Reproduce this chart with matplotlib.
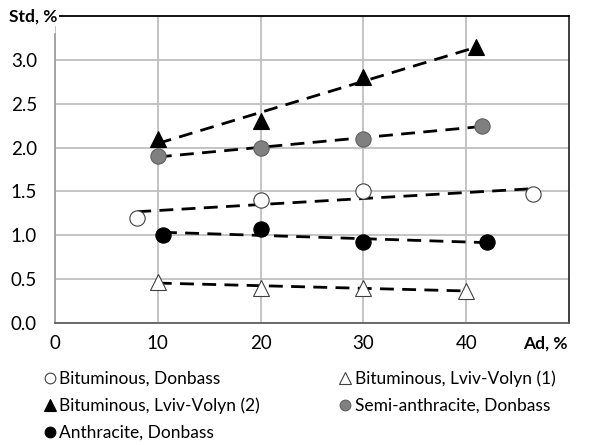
import numpy as np
import matplotlib.pyplot as plt

plt.rcParams['font.family'] = ['Lato', 'DejaVu Sans']

# зольність Ad, % та вміст сірки Std, %
bit_donbass_x = [8, 20, 30, 46.5]
bit_donbass_y = [1.2, 1.4, 1.5, 1.47]

lv1_x = [10, 20, 30, 40]
lv1_y = [0.47, 0.4, 0.4, 0.37]

lv2_x = [10, 20, 30, 41]
lv2_y = [2.1, 2.3, 2.8, 3.15]

semi_x = [10, 20, 30, 41.5]
semi_y = [1.9, 2.0, 2.1, 2.25]

anthr_x = [10.5, 20, 30, 42]
anthr_y = [1.0, 1.07, 0.92, 0.92]

series = [
    ('Bituminous, Donbass', bit_donbass_x, bit_donbass_y, 'o', 'white', '#404040'),
    ('Bituminous, Lviv-Volyn (1)', lv1_x, lv1_y, '^', 'white', '#404040'),
    ('Bituminous, Lviv-Volyn (2)', lv2_x, lv2_y, '^', 'black', 'black'),
    ('Semi-anthracite, Donbass', semi_x, semi_y, 'o', '#808080', '#606060'),
    ('Anthracite, Donbass', anthr_x, anthr_y, 'o', 'black', 'black'),
]

fig = plt.figure(figsize=(5.96, 4.45), dpi=100)
ax = fig.add_axes([0.0923, 0.2742, 0.8624, 0.6898])

handles = {}
for name, x, y, m, fc, ec in series:
    x = np.array(x)
    y = np.array(y)
    # лінійний тренд
    k, b = np.polyfit(x, y, 1)
    xx = np.array([x.min(), x.max()])
    ax.plot(xx, k * xx + b, color='black', lw=2, dashes=(5, 3), zorder=3)
    ms = 11 if m == 'o' else 12
    h, = ax.plot(x, y, ls='none', marker=m, ms=ms, mfc=fc, mec=ec, mew=0.8, zorder=4)
    handles[name] = h

ax.set_xlim(0, 50)
ax.set_ylim(0, 3.5)
ax.set_xticks([0, 10, 20, 30, 40])
ax.set_yticks(np.arange(0, 3.01, 0.5))
ax.set_yticklabels([f'{v:.1f}' for v in np.arange(0, 3.01, 0.5)])
ax.grid(True, color='#bfbfbf', lw=1.3)
ax.set_axisbelow(True)
ax.tick_params(length=0, labelsize=13.5, colors='black', pad=13)
ax.tick_params(axis='x', pad=9)

ax.spines['left'].set_color('#a0a0a0')
ax.spines['left'].set_bounds(0, 3.3)
ax.spines['bottom'].set_color('#606060')
ax.spines['right'].set_color('#303030')
ax.spines['top'].set_color('black')
for s in ax.spines.values():
    s.set_linewidth(1.3)

fig.text(0.015, 0.962, 'Std, %', fontsize=12.5, fontweight='bold', va='center',
         bbox=dict(facecolor='white', edgecolor='none', pad=1))
fig.text(0.952, 0.229, 'Ad, %', fontsize=12.5, fontweight='bold', ha='right', va='center')

order = ['Bituminous, Donbass', 'Bituminous, Lviv-Volyn (2)', 'Anthracite, Donbass',
         'Bituminous, Lviv-Volyn (1)', 'Semi-anthracite, Donbass']
fig.legend([handles[n] for n in order], order, ncol=2, loc='upper left',
           bbox_to_anchor=(0.06, 0.187), frameon=False, fontsize=12.5,
           markerscale=0.7, handlelength=0.6, handletextpad=0.25,
           columnspacing=4.6, labelspacing=0.62, borderpad=0)

fig.savefig('out.png', dpi=100)
